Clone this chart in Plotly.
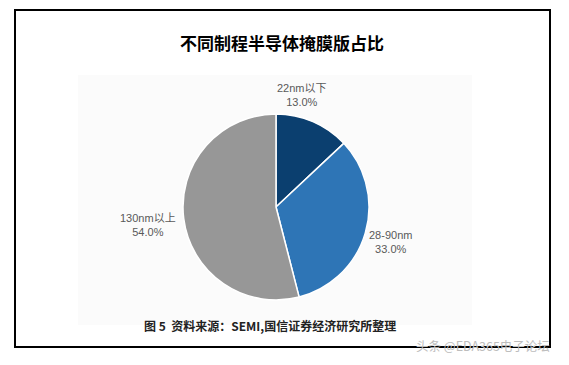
import plotly.graph_objects as go

labels = ["22nm以下", "28-90nm", "130nm以上"]
values = [13.0, 33.0, 54.0]
colors = ["#0b3f6f", "#2e75b6", "#979797"]
title_text = "不同制程半导体掩膜版占比"
caption_text = "图 5  资料来源：SEMI,国信证券经济研究所整理"
watermark_text = "头条 @EDA365电子论坛"

# page offset: the browser body has an 8px default margin
OFF = 8
W, H = 569 - OFF, 365 - OFF


def px(x):
    return (x - OFF) / W


def py(y):
    return 1 - (y - OFF) / H


cx, cy, r = 276, 207, 93
label_pos = [(302, 95), (390, 242), (148, 225)]  # page pixels for the slice labels

LBL_FONT = "Liberation Sans, Noto Sans CJK SC, sans-serif"
CJK_FONT = "Noto Sans CJK SC, Liberation Sans, sans-serif"

fig = go.Figure()
fig.add_trace(go.Pie(
    labels=labels,
    values=values,
    sort=False,
    direction="clockwise",
    rotation=0,
    marker=dict(colors=colors, line=dict(color="white", width=1.5)),
    textinfo="none",
    showlegend=False,
    hoverinfo="skip",
    domain=dict(x=[px(cx - r), px(cx + r)], y=[py(cy + r), py(cy - r)]),
))

annotations = [
    dict(text="<b>" + title_text + "</b>", x=px(282), y=py(42), xref="paper", yref="paper",
         showarrow=False, xanchor="center", yanchor="middle",
         font=dict(size=17, color="black", family=CJK_FONT)),
    dict(text="<b>" + caption_text + "</b>", x=px(270), y=py(325), xref="paper", yref="paper",
         showarrow=False, xanchor="center", yanchor="middle",
         font=dict(size=12, color="#222222", family=CJK_FONT)),
    dict(text=watermark_text, x=px(552), y=py(345), xref="paper", yref="paper",
         showarrow=False, xanchor="right", yanchor="middle",
         font=dict(size=12.5, color="#bdbdbd", family=CJK_FONT)),
]
for lab, val, (lx, ly) in zip(labels, values, label_pos):
    annotations.append(dict(
        text=f"{lab}<br>{val:.1f}%", x=px(lx), y=py(ly), xref="paper", yref="paper",
        showarrow=False, xanchor="center", yanchor="middle", align="center",
        font=dict(size=11, color="#595959", family=LBL_FONT)))

fig.update_layout(
    width=W, height=H,
    margin=dict(l=0, r=0, t=0, b=0),
    paper_bgcolor="white",
    plot_bgcolor="white",
    font=dict(family=CJK_FONT),
    shapes=[
        dict(type="rect", xref="paper", yref="paper",
             x0=px(78), x1=px(472), y0=py(325), y1=py(75),
             fillcolor="#fbfbfb", line=dict(width=0), layer="below"),
        dict(type="rect", xref="paper", yref="paper",
             x0=px(15), x1=px(550), y0=py(347), y1=py(10),
             line=dict(color="black", width=2), fillcolor="rgba(0,0,0,0)"),
    ],
    annotations=annotations,
)

fig.write_html("out.html")
